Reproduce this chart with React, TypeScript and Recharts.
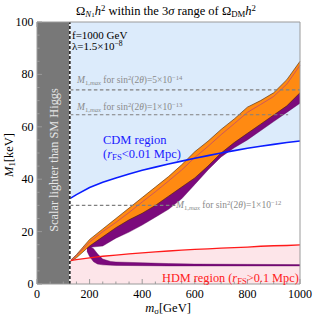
import { ComposedChart, Area, Line, XAxis, YAxis, ReferenceArea, ReferenceLine } from "recharts";

const higgsMass = 125;

// scalar mass grid [GeV] for the r_FS boundaries and the orange band
const mSigma = [125, 150, 200, 250, 300, 350, 400, 450, 500, 550, 600, 650, 700, 750, 800, 850, 900, 950, 1000];
const cdmEdge = [32.6, 34.1, 36.8, 38.8, 40.5, 42.0, 43.4, 44.6, 45.8, 46.9, 48.0, 49.0, 50.0, 50.9, 51.8, 52.6, 53.3, 54.0, 54.6];
const hdmEdge = [8.9, 9.3, 10.0, 10.6, 11.0, 11.5, 11.9, 12.3, 12.6, 12.9, 13.2, 13.4, 13.7, 13.9, 14.1, 14.4, 14.6, 14.7, 14.9];
const relicUpper = [8.8, 11.2, 17.0, 21.0, 25.0, 29.0, 33.0, 37.0, 41.0, 45.5, 50.5, 54.5, 59.0, 63.0, 67.5, 70.0, 73.0, 78.0, 85.0];
const relicLower = [8.5, 10.0, 14.5, 18.0, 21.5, 24.5, 27.0, 30.0, 33.5, 37.0, 40.5, 45.0, 50.0, 54.0, 57.5, 61.0, 64.5, 68.0, 73.0];
const relicCentre = [8.7, 10.8, 16.0, 20.0, 23.5, 27.3, 31.3, 35.2, 39.3, 43.5, 48.3, 52.5, 57.0, 61.2, 65.5, 68.5, 71.6, 76.3, 83.5];

// purple band below the orange one
const purpleM = [190, 200, 250, 300, 350, 400, 450, 500, 550, 600, 650, 700, 750, 800, 850, 900, 950, 1000];
const purpleLow = [13.8, 14.0, 14.5, 17.5, 19.8, 22.5, 25.5, 28.5, 32.5, 38.0, 43.5, 48.5, 52.0, 55.0, 58.5, 62.0, 65.5, 69.0];
const purpleHigh = [14.5, 15.5, 19.0, 22.5, 25.5, 28.0, 31.0, 34.5, 38.0, 41.5, 46.0, 51.0, 55.0, 58.5, 62.0, 65.5, 69.0, 74.0];

// lower purple branch
const branchM = [190, 200, 215, 230, 250, 280, 300, 400, 500, 600, 800, 1000];
const branchLow = [12.5, 10.5, 8.5, 7.6, 7.3, 7.2, 7.1, 7.0, 6.9, 6.9, 6.9, 6.9];
const branchHigh = [14.0, 14.5, 13.5, 11.5, 9.5, 8.6, 8.4, 8.1, 7.8, 7.6, 7.5, 7.4];

// M1,max lines
const mixLevel = [74.1, 64.6, 30.0];
const mixEnd = [1000, 955, 528];
const mixMantissa = ["5", "1", "1"];
const mixExponent = ["−14", "−13", "−12"];

const xTicks = [0, 50, 100, 150, 200, 250, 300, 350, 400, 450, 500, 550, 600, 650, 700, 750, 800, 850, 900, 950, 1000];
const xMajor = [0, 200, 400, 600, 800, 1000];
const yTicks = [0, 5, 10, 15, 20, 25, 30, 35, 40, 45, 50, 55, 60, 65, 70, 75, 80, 85, 90, 95, 100];
const yMajor = [0, 20, 40, 60, 80, 100];

type Row = { m: number; [k: string]: number | number[] | undefined };
const table = new Map<number, Row>();
const put = (ms: number[], key: string, vals: (number | number[])[]) =>
  ms.forEach((m, i) => {
    const r = table.get(m) ?? { m };
    r[key] = vals[i];
    table.set(m, r);
  });
put(mSigma, "cdm", mSigma.map((_, i) => [cdmEdge[i], 100]));
put(mSigma, "hdm", mSigma.map((_, i) => [0, hdmEdge[i]]));
put(mSigma, "blue", cdmEdge);
put(mSigma, "red", hdmEdge);
put(mSigma, "relic", mSigma.map((_, i) => [relicLower[i], relicUpper[i]]));
put(mSigma, "centre", relicCentre);
put(purpleM, "purple", purpleM.map((_, i) => [purpleLow[i], purpleHigh[i]]));
put(branchM, "branch", branchM.map((_, i) => [branchLow[i], branchHigh[i]]));
const data = [...table.values()].sort((a, b) => a.m - b.m);

const serif = "Liberation Serif";
const frame = "#9a9a9a";

const BottomTick = ({ x, y, payload }: any) => {
  const major = xMajor.includes(payload.value);
  return (
    <g>
      <line x1={x} x2={x} y1={y} y2={y - (major ? 5 : 2.5)} stroke={frame} />
      {major && (
        <text x={x} y={y + 14} textAnchor="middle" fontSize={12} fontFamily={serif} fill="#000">
          {payload.value}
        </text>
      )}
    </g>
  );
};
const TopTick = ({ x, y, payload }: any) => {
  const major = xMajor.includes(payload.value);
  return <line x1={x} x2={x} y1={y} y2={y + (major ? 5 : 2.5)} stroke={frame} />;
};
const LeftTick = ({ x, y, payload }: any) => {
  const major = yMajor.includes(payload.value);
  return (
    <g>
      <line x1={x} x2={x + (major ? 5 : 2.5)} y1={y} y2={y} stroke={frame} />
      {major && (
        <text x={x - 3.5} y={y + 4} textAnchor="end" fontSize={12} fontFamily={serif} fill="#000">
          {payload.value}
        </text>
      )}
    </g>
  );
};
const RightTick = ({ x, y, payload }: any) => {
  const major = yMajor.includes(payload.value);
  return <line x1={x} x2={x - (major ? 5 : 2.5)} y1={y} y2={y} stroke={frame} />;
};

const sub = { fontSize: "0.7em", verticalAlign: "-0.25em", lineHeight: 0 };
const sup = { fontSize: "0.7em", verticalAlign: "0.45em", lineHeight: 0 };

const Txt = ({ left, top, size, color, children, center }: any) => (
  <div
    style={{
      position: "absolute",
      left,
      top,
      fontSize: size,
      color,
      lineHeight: 1,
      whiteSpace: "nowrap",
      transform: center ? "translate(-50%, -50%)" : "translateY(-50%)",
    }}
  >
    {children}
  </div>
);

export default function App() {
  return (
    <div style={{ position: "absolute", left: 0, top: 0, width: 313, height: 316, fontFamily: serif, background: "#fff" }}>
      <ComposedChart width={313} height={316} data={data} margin={{ top: 21, right: 12, bottom: 0, left: 0 }}>
        <ReferenceArea x1={0} x2={higgsMass} y1={0} y2={100} fill="#787878" fillOpacity={1} stroke="none" />
        <Area dataKey="cdm" fill="#dcebfb" fillOpacity={1} stroke="none" connectNulls isAnimationActive={false} />
        <Area dataKey="hdm" fill="#fde5e9" fillOpacity={1} stroke="none" connectNulls isAnimationActive={false} />
        <Area dataKey="branch" fill="#7c0a7c" fillOpacity={1} stroke="#5a055a" strokeWidth={0.4} connectNulls isAnimationActive={false} />
        <Area dataKey="purple" fill="#7c0a7c" fillOpacity={1} stroke="#5a055a" strokeWidth={0.4} connectNulls isAnimationActive={false} />
        <Area dataKey="relic" fill="#ff8a12" fillOpacity={1} stroke="#4a2200" strokeWidth={0.6} connectNulls isAnimationActive={false} />
        <Line dataKey="centre" stroke="#b8407a" strokeWidth={0.7} dot={false} activeDot={false} connectNulls isAnimationActive={false} />
        <Line dataKey="blue" stroke="#0a1cff" strokeWidth={1.6} dot={false} activeDot={false} connectNulls isAnimationActive={false} />
        <Line dataKey="red" stroke="#ff1a1a" strokeWidth={1.3} dot={false} activeDot={false} connectNulls isAnimationActive={false} />
        {mixLevel.map((lv, i) => (
          <ReferenceLine
            key={i}
            segment={[{ x: higgsMass, y: lv }, { x: mixEnd[i], y: lv }]}
            stroke="#808080"
            strokeWidth={1.1}
            strokeDasharray="3.5 2.5"
          />
        ))}
        <ReferenceLine x={higgsMass} stroke="#ffffff" strokeWidth={1.4} />
        <ReferenceLine x={higgsMass} stroke="#000000" strokeWidth={1.4} strokeDasharray="3 2" />
        <XAxis
          dataKey="m"
          type="number"
          domain={[0, 1000]}
          ticks={xTicks}
          interval={0}
          height={32}
          stroke={frame}
          tickLine={false}
          tickSize={0}
          tickMargin={0}
          tick={(p: any) => <BottomTick {...p} />}
        />
        <XAxis
          xAxisId="top"
          orientation="top"
          type="number"
          domain={[0, 1000]}
          ticks={xTicks}
          interval={0}
          height={1}
          stroke={frame}
          tickLine={false}
          tickSize={0}
          tickMargin={0}
          tick={(p: any) => <TopTick {...p} />}
        />
        <YAxis
          type="number"
          domain={[0, 100]}
          ticks={yTicks}
          interval={0}
          width={37}
          stroke={frame}
          tickLine={false}
          tickSize={0}
          tickMargin={0}
          tick={(p: any) => <LeftTick {...p} />}
        />
        <YAxis
          yAxisId="right"
          orientation="right"
          type="number"
          domain={[0, 100]}
          ticks={yTicks}
          interval={0}
          width={1}
          stroke={frame}
          tickLine={false}
          tickSize={0}
          tickMargin={0}
          tick={(p: any) => <RightTick {...p} />}
        />
      </ComposedChart>

      <Txt left={166} top={10.5} size={12.5} color="#000" center>
        Ω<span style={sub}>
          <i>N</i>
          <span style={{ fontSize: "0.8em" }}>1</span>
        </span>
        <i>h</i>
        <span style={sup}>2</span> within the 3<i>σ</i> range of Ω<span style={sub}>DM</span>
        <i>h</i>
        <span style={sup}>2</span>
      </Txt>

      <Txt left={72} top={34.5} size={11} color="#000">
        f=1000 GeV
      </Txt>
      <Txt left={72} top={46} size={11} color="#000">
        λ=1.5×10<span style={sup}>−8</span>
      </Txt>

      {mixLevel.map((lv, i) => (
        <Txt key={i} left={i === 2 ? 176 : 77} top={i === 0 ? 81 : i === 1 ? 107.5 : 205.5} size={9.5} color="#8a8a8a">
          <i>M</i>
          <span style={sub}>1,<i>max</i></span> for sin<span style={sup}>2</span>(2<i>θ</i>)={mixMantissa[i]}×10
          <span style={sup}>{mixExponent[i]}</span>
        </Txt>
      ))}

      <Txt left={103} top={140} size={12.5} color="#1a1aff">
        CDM region
      </Txt>
      <Txt left={103} top={154} size={12.5} color="#1a1aff">
        (<i>r</i>
        <span style={sub}>FS</span>&lt;0.01 Mpc)
      </Txt>
      <Txt left={162} top={278} size={12.3} color="#ff2020">
        HDM region (<i>r</i>
        <span style={sub}>FS</span>&gt;0.1 Mpc)
      </Txt>

      <div
        style={{
          position: "absolute",
          left: 53.5,
          top: 160,
          transform: "translate(-50%, -50%) rotate(-90deg)",
          fontSize: 12.3,
          color: "#e6e6e6",
          whiteSpace: "nowrap",
          lineHeight: 1,
        }}
      >
        Scalar lighter than SM Higgs
      </div>
      <div
        style={{
          position: "absolute",
          left: 9,
          top: 155,
          transform: "translate(-50%, -50%) rotate(-90deg)",
          fontSize: 12.5,
          whiteSpace: "nowrap",
          lineHeight: 1,
        }}
      >
        <i>M</i>
        <span style={sub}>1</span>[keV]
      </div>
      <div
        style={{
          position: "absolute",
          left: 168,
          top: 307.5,
          transform: "translate(-50%, -50%)",
          fontSize: 12.5,
          whiteSpace: "nowrap",
          lineHeight: 1,
        }}
      >
        <i>m</i>
        <span style={sub}>σ</span>[GeV]
      </div>
    </div>
  );
}
